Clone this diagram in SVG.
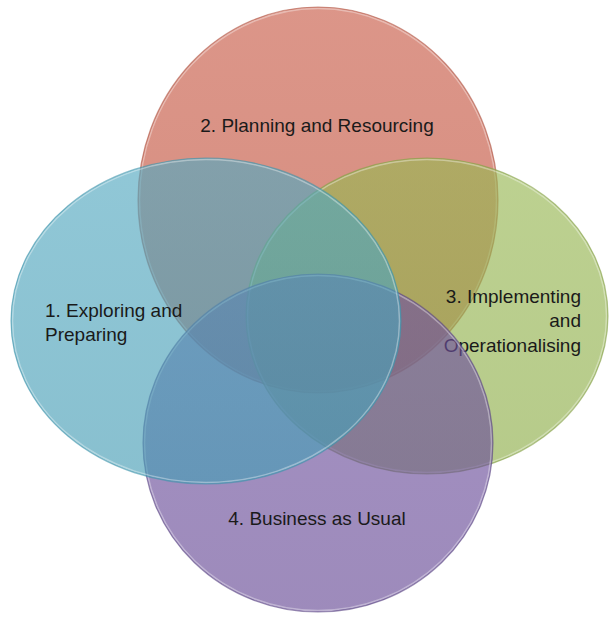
<svg xmlns="http://www.w3.org/2000/svg" width="609" height="617" viewBox="0 0 609 617">
<style>
.lbl{font-family:"Liberation Sans",Arial,sans-serif;font-size:19px;fill:#1a1a1a}
.ring{fill:none;stroke-width:1.2}
.hl{fill:none;stroke:#ffffff;stroke-opacity:0.35;stroke-width:1.5}
</style>
<defs>
<linearGradient id="gRed" x1="0" y1="0" x2="0" y2="1">
<stop offset="0" stop-color="#c85a46"/><stop offset="1" stop-color="#bd4c36"/>
</linearGradient>
<linearGradient id="gBlue" x1="0" y1="0" x2="0" y2="1">
<stop offset="0" stop-color="#52a8c0"/><stop offset="1" stop-color="#459cb4"/>
</linearGradient>
<linearGradient id="gGreen" x1="0" y1="0" x2="0" y2="1">
<stop offset="0" stop-color="#97b752"/><stop offset="1" stop-color="#8dad48"/>
</linearGradient>
<linearGradient id="gPurple" x1="0" y1="0" x2="0" y2="1">
<stop offset="0" stop-color="#7052a0"/><stop offset="1" stop-color="#664995"/>
</linearGradient>
</defs>
<rect width="609" height="617" fill="#ffffff"/>
<g id="node-2">
<ellipse cx="318" cy="200" rx="180" ry="193" fill="url(#gRed)" fill-opacity="0.64"/>
<ellipse cx="318" cy="200" rx="178.5" ry="191.5" class="hl"/>
<ellipse cx="318" cy="200" rx="180" ry="193" class="ring" stroke="#b05a4a" stroke-opacity="0.6"/>
<text class="lbl" x="317" y="132" text-anchor="middle">2. Planning and Resourcing</text>
</g>
<g id="node-3">
<ellipse cx="427" cy="316" rx="181" ry="158" fill="url(#gGreen)" fill-opacity="0.64"/>
<ellipse cx="427" cy="316" rx="179.5" ry="156.5" class="hl"/>
<ellipse cx="427" cy="316" rx="181" ry="158" class="ring" stroke="#86a04a" stroke-opacity="0.6"/>
<text class="lbl" x="581" y="303" text-anchor="end">3. Implementing</text>
<text class="lbl" x="581" y="327" text-anchor="end">and</text>
<text class="lbl" x="581" y="352" text-anchor="end">Operationalising</text>
</g>
<g id="node-4">
<ellipse cx="318" cy="443" rx="175" ry="169" fill="url(#gPurple)" fill-opacity="0.64"/>
<ellipse cx="318" cy="443" rx="173.5" ry="167.5" class="hl"/>
<ellipse cx="318" cy="443" rx="175" ry="169" class="ring" stroke="#5e4a86" stroke-opacity="0.6"/>
<text class="lbl" x="317" y="525" text-anchor="middle">4. Business as Usual</text>
</g>
<g id="node-1">
<ellipse cx="206" cy="321" rx="195" ry="163" fill="url(#gBlue)" fill-opacity="0.64"/>
<ellipse cx="206" cy="321" rx="193.5" ry="161.5" class="hl"/>
<ellipse cx="206" cy="321" rx="195" ry="163" class="ring" stroke="#3f94ac" stroke-opacity="0.6"/>
<text class="lbl" x="45" y="317">1. Exploring and</text>
<text class="lbl" x="45" y="341">Preparing</text>
</g>
<g id="connectors"/>
</svg>
